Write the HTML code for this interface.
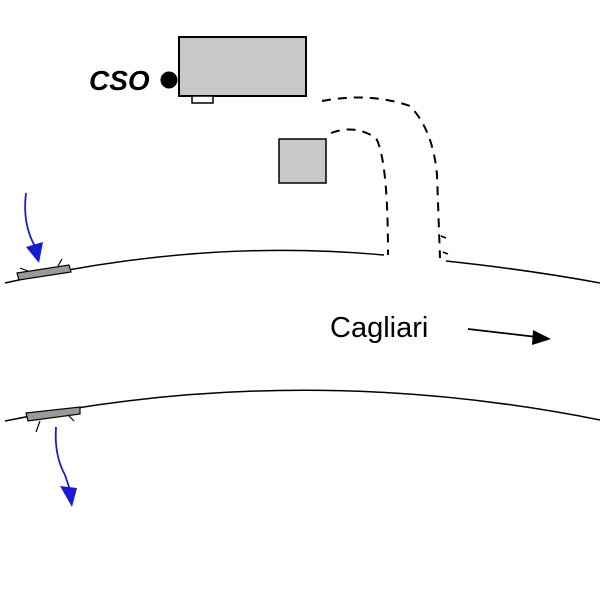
<!DOCTYPE html>
<html><head><style>body{margin:0;background:#fff}svg{display:block}</style></head><body>
<svg width="600" height="600" xmlns="http://www.w3.org/2000/svg">
<rect width="600" height="600" fill="#fff"/>
<rect x="179" y="37" width="127" height="59" fill="#c8c8c8" stroke="#000" stroke-width="2"/>
<rect x="192" y="96" width="21" height="7" fill="#fff" stroke="#000" stroke-width="1.5"/>
<circle cx="169" cy="80" r="8.5" fill="#000"/>
<text x="89" y="90" font-family="Liberation Sans, sans-serif" font-size="28" font-weight="bold" font-style="italic">CSO</text>
<rect x="279" y="139" width="47" height="44" fill="#c8c8c8" stroke="#000" stroke-width="1.5"/>
<path d="M331 133 Q355 124 376 138 Q388 160 388 255" fill="none" stroke="#000" stroke-width="2" stroke-dasharray="9,7"/>
<path d="M322 101 Q370 92 410 106 Q433 130 437 175 L440 258" fill="none" stroke="#000" stroke-width="2" stroke-dasharray="9,7"/>
<path d="M441 236 L446 238 M443 252 L448 254" stroke="#000" stroke-width="1.5"/>
<path d="M5 283 Q200 238 384 255" fill="none" stroke="#000" stroke-width="1.5"/>
<path d="M446 261 Q530 270 600 283" fill="none" stroke="#000" stroke-width="1.5"/>
<path d="M5 421 Q300 360 600 420" fill="none" stroke="#000" stroke-width="1.5"/>
<polygon points="17,273 69,265 71,272 19,280" fill="#9a9a9a" stroke="#000" stroke-width="1.2"/>
<path d="M20 268 L28 271 M58 266 L62 259" stroke="#000" stroke-width="1.2"/>
<path d="M26 193 Q22 225 36 248" fill="none" stroke="#1a1ad0" stroke-width="1.8"/>
<polygon points="26,247 43,242 39,263" fill="#1a1ad0"/>
<polygon points="26,413 80,407 80,414 28,421" fill="#9a9a9a" stroke="#000" stroke-width="1.2"/>
<path d="M40 421 L36 432 M68 415 L74 421" stroke="#000" stroke-width="1.2"/>
<path d="M56 427 Q54 455 65 475 L70 490" fill="none" stroke="#1a1ad0" stroke-width="1.8"/>
<polygon points="60,486 77,488 72,507" fill="#1a1ad0"/>
<text x="330" y="337" font-family="Liberation Sans, sans-serif" font-size="29">Cagliari</text>
<line x1="468" y1="329" x2="537" y2="337" stroke="#000" stroke-width="1.8"/>
<polygon points="533,330 551,339 532,345" fill="#000"/>
</svg>
</body></html>
